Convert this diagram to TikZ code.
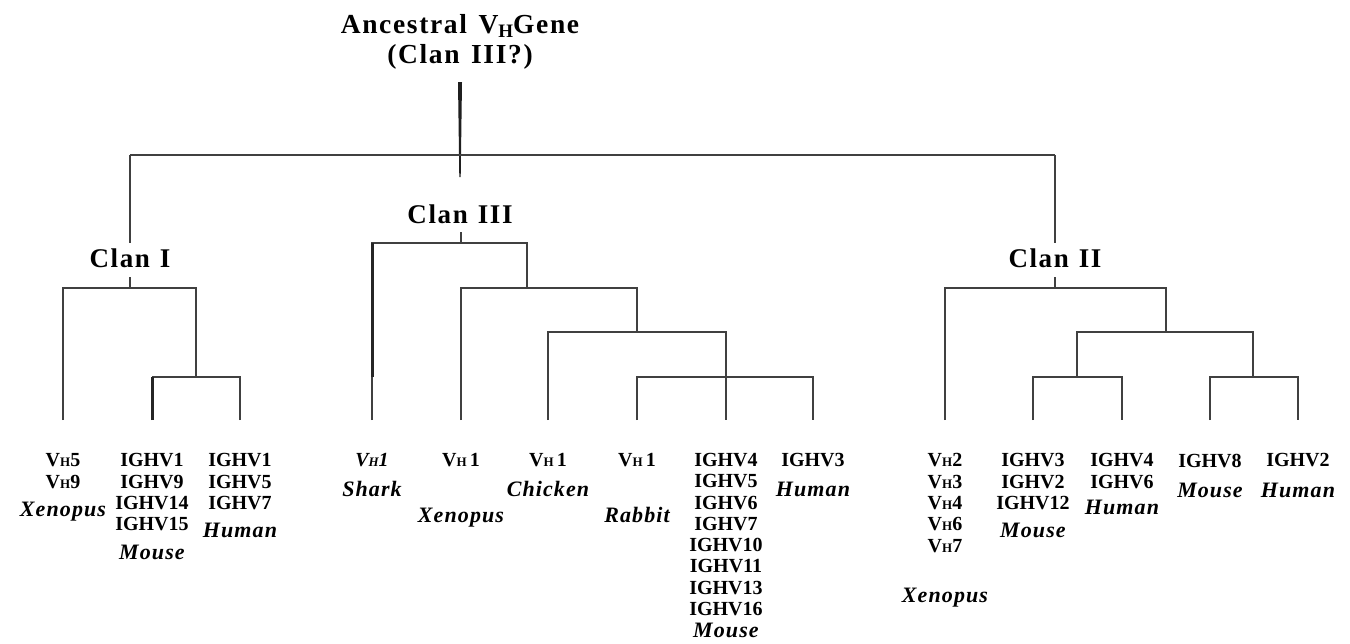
\documentclass[tikz,border=0pt]{standalone}
\usepackage{fontspec}
\setmainfont{Liberation Serif}
\newfontfamily\spf[LetterSpace=5]{Liberation Serif}
\newfontfamily\ttlf[LetterSpace=6]{Liberation Serif}
\newcommand\smh{{\fontsize{13}{13}\selectfont H}}
\newcommand\spc[1]{{\spf\bfseries\itshape\fontsize{22}{21.3}\selectfont #1}}
\begin{document}
\begin{tikzpicture}[x=1pt,y=-1pt,
  line/.style={draw=black!75, line width=1.1pt},
  thickline/.style={draw=black!85, line width=3pt},
  leaf/.style={anchor=north, align=center, inner sep=0pt, font=\fontsize{20}{21.3}\selectfont\bfseries},
  ttl/.style={anchor=base, inner sep=0pt, font=\ttlf\bfseries\fontsize{27.5}{30}\selectfont},
  clan/.style={anchor=base, inner sep=0pt, font=\ttlf\bfseries\fontsize{27}{30}\selectfont}]
\useasboundingbox (0,0) rectangle (1350,643);

% titles
\node[ttl] (title1) at (460,33) {Ancestral\hspace{3pt} V\raisebox{-4pt}{\fontsize{19}{19}\selectfont H}Gene};
\node[ttl] (title2) at (460,63) {(Clan\hspace{3pt} III?)};
\node[clan] (clanI) at (130,267) {Clan\hspace{10pt}I};
\node[clan] (clanIII) at (460,223) {Clan\hspace{10pt}III};
\node[clan] (clanII) at (1055,267) {Clan\hspace{10pt}II};

% root
\coordinate (R0) at (460,82);
\coordinate (R1) at (460,177);
\coordinate (CI) at (130,155);
\coordinate (CII) at (1055,155);
\fill[black!88] ([xshift=-2pt]R0) -- ([xshift=2pt]R0) -- ([xshift=0.7pt]R1) -- ([xshift=-0.7pt]R1) -- cycle;
\draw[line] (CI) -- (CII);
\draw[line, shorten >=5pt] (CI) -- (CI |- clanI.north);
\draw[line, shorten >=5pt] (CII) -- (CII |- clanII.north);

% Clan I
\coordinate (I) at (130,288);
\coordinate (Ia) at (196,377);
\coordinate (L1) at (63,420);
\coordinate (L2) at (152,420);
\coordinate (L3) at (240,420);
\draw[line] (I) -- ++(0,-11);
\draw[line] (L1) |- (I) -| (Ia);
\draw[line] (L3) |- (Ia);
\draw[line] (L2 |- Ia) -- (Ia);
\draw[thickline] (L2) -- (L2 |- Ia);

% Clan III
\coordinate (III) at (461,243);
\coordinate (n1) at (527,288);
\coordinate (n2) at (637,332);
\coordinate (n3) at (726,377);
\coordinate (S) at (372,420);
\coordinate (X) at (461,420);
\coordinate (C) at (548,420);
\coordinate (Rb) at (637,420);
\coordinate (M) at (726,420);
\coordinate (H) at (813,420);
\draw[line] (III) -- ++(0,-11);
\draw[line] (S) |- (III) -| (n1);
\draw[thickline] (S |- n3) -- (S |- III);
\draw[line] (X) |- (n1) -| (n2);
\draw[line] (C) |- (n2) -| (M);
\draw[line] (Rb) |- (n3) -| (H);

% Clan II
\coordinate (II) at (1055,288);
\coordinate (m1) at (1166,332);
\coordinate (m2) at (1077,377);
\coordinate (m3) at (1253,377);
\coordinate (X2) at (945,420);
\coordinate (M2) at (1033,420);
\coordinate (H2) at (1122,420);
\coordinate (M3) at (1210,420);
\coordinate (H3) at (1298,420);
\draw[line] (II) -- ++(0,-11);
\draw[line] (X2) |- (II) -| (m1);
\draw[line] (m2) |- (m1) -| (m3);
\draw[line] (M2) |- (m2) -| (H2);
\draw[line] (M3) |- (m3) -| (H3);

% leaf labels
\node[leaf] (t1) at (63,453.5) {V\smh5\\V\smh9\\[7pt]\spc{Xenopus}};
\node[leaf] (t2) at (152,453.5) {IGHV1\\IGHV9\\IGHV14\\IGHV15\\[7pt]\spc{Mouse}};
\node[leaf] (t3) at (240,453.5) {IGHV1\\IGHV5\\IGHV7\\[7pt]\spc{Human}};
\node[leaf] (t4) at (372,453.5) {{\bfseries\itshape V\smh1}\\[8pt]\spc{Shark}};
\node[leaf] (t5) at (461,453.5) {V\smh\,1\\[34pt]\spc{Xenopus}};
\node[leaf] (t6) at (548,453.5) {V\smh\,1\\[8pt]\spc{Chicken}};
\node[leaf] (t7) at (637,453.5) {V\smh\,1\\[34pt]\spc{Rabbit}};
\node[leaf] (t8) at (726,453) {IGHV4\\IGHV5\\IGHV6\\IGHV7\\IGHV10\\IGHV11\\IGHV13\\IGHV16\\[1pt]\spc{Mouse}};
\node[leaf] (t9) at (813,453.5) {IGHV3\\[8pt]\spc{Human}};
\node[leaf] (t10) at (945,453.5) {V\smh2\\V\smh3\\V\smh4\\V\smh6\\V\smh7\\[29pt]\spc{Xenopus}};
\node[leaf] (t11) at (1033,453.5) {IGHV3\\IGHV2\\IGHV12\\[7pt]\spc{Mouse}};
\node[leaf] (t12) at (1122,453.5) {IGHV4\\IGHV6\\[5pt]\spc{Human}};
\node[leaf] (t13) at (1210,453.5) {IGHV8\\[9pt]\spc{Mouse}};
\node[leaf] (t14) at (1298,453.5) {IGHV2\\[9pt]\spc{Human}};
\end{tikzpicture}
\end{document}
